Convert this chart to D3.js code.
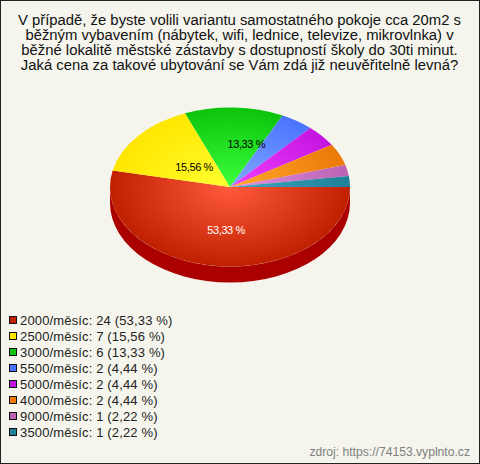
<!DOCTYPE html>
<html><head><meta charset="utf-8">
<script src="https://cdn.jsdelivr.net/npm/d3@7"></script>
<style>html,body{margin:0;padding:0;background:#f5f5ed}svg{display:block}text{font-family:"Liberation Sans",Arial,sans-serif}</style>
</head><body><svg id="c" width="480" height="464"></svg>
<script>
const titleLines = [
  "V případě, že byste volili variantu samostatného pokoje cca 20m2 s",
  "běžným vybavením (nábytek, wifi, lednice, televize, mikrovlnka) v",
  "běžné lokalitě městské zástavby s dostupností školy do 30ti minut.",
  "Jaká cena za takové ubytování se Vám zdá již neuvěřitelně levná?"
];
const categories = ["2000/měsíc","2500/měsíc","3000/měsíc","5500/měsíc","5000/měsíc","4000/měsíc","9000/měsíc","3500/měsíc"];
const counts = [24,7,6,2,2,2,1,1];
const percentLabels = ["53,33 %","15,56 %","13,33 %","4,44 %","4,44 %","4,44 %","2,22 %","2,22 %"];
const pieLabelColors = ["#ffffff","#000000","#000000",null,null,null,null,null];
const labelRadii = [.55,.39,.54];
const labelShift = [3,0,14];
const edgeColors = ["#c02000","#ffe600","#0cc40c","#4a74ff","#c414e0","#ec7a08","#bc62b4","#1f8098"];
const centreColors = ["#ff5a3c","#ffff30","#3cff3c","#80a8ff","#f040ff","#ffa828","#e090e0","#40a8c0"];
const sideColor = "#aa0000";
const sourceText = "zdroj: https://74153.vyplnto.cz";

const W=480,H=464,cx=230,cy=187,rx=120,ry=79.5,depth=16;
const svg=d3.select("#c");
const defs=svg.append("defs");
svg.append("rect").attr("x",.5).attr("y",.5).attr("width",W-1).attr("height",H-1).attr("fill","#f5f5ed").attr("stroke","#222");

svg.selectAll("text.t").data(titleLines).join("text").attr("class","t")
  .attr("x",W/2-.5).attr("y",(d,i)=>25+i*15).attr("text-anchor","middle").attr("font-size",14.85).attr("fill","#111").text(d=>d);

const pie=d3.pie().sort(null).startAngle(Math.PI/2).endAngle(Math.PI/2+2*Math.PI);
const arcs=pie(counts);
const arc=d3.arc().innerRadius(0).outerRadius(rx);
const k=ry/rx;

const ellipseX=d3.scaleLinear().domain([-1,1]).range([cx-rx,cx+rx]);
const ellipseY=d3.scaleLinear().domain([-1,1]).range([cy-ry,cy+ry]);
const wall=[];
arcs.forEach(a=>{
  const s=Math.max(a.startAngle,Math.PI/2), e=Math.min(a.endAngle,3*Math.PI/2);
  if(e>s){
    const x0=ellipseX(Math.sin(s)),y0=ellipseY(-Math.cos(s)),x1=ellipseX(Math.sin(e)),y1=ellipseY(-Math.cos(e));
    wall.push(`M${x0},${y0}A${rx},${ry} 0 0 1 ${x1},${y1}L${x1},${y1+depth}A${rx},${ry} 0 0 0 ${x0},${y0+depth}Z`);
  }
});
svg.append("g").selectAll("path").data(wall).join("path").attr("d",d=>d).attr("fill",sideColor);

const g=svg.append("g").attr("transform",`translate(${cx},${cy}) scale(1,${k})`);
arcs.forEach((a,i)=>{
  const grad=defs.append("radialGradient").attr("id","g"+i).attr("gradientUnits","userSpaceOnUse")
    .attr("cx",0).attr("cy",0).attr("r",rx);
  grad.append("stop").attr("offset",0).attr("stop-color",centreColors[i]);
  grad.append("stop").attr("offset",1).attr("stop-color",edgeColors[i]);
});
g.selectAll("path").data(arcs).join("path").attr("d",arc).attr("fill",(d,i)=>`url(#g${i})`);

const labelPos=d=>{const r=rx*labelRadii[d.index];const c=d3.arc().innerRadius(r).outerRadius(r).centroid(d);return [cx+c[0]+labelShift[d.index],cy+c[1]*k+4];};
svg.selectAll("text.p").data(arcs.filter((d,i)=>pieLabelColors[i])).join("text").attr("class","p")
  .attr("x",d=>labelPos(d)[0]).attr("y",d=>labelPos(d)[1])
  .attr("text-anchor","middle").attr("font-size",11).attr("letter-spacing",-.4)
  .attr("fill",d=>pieLabelColors[d.index]).text(d=>percentLabels[d.index]);

const legY=d3.scalePoint().domain(categories).range([320,432]);
const leg=svg.append("g").selectAll("g").data(categories).join("g").attr("transform",d=>`translate(0,${legY(d)})`);
leg.append("rect").attr("x",9.5).attr("y",-3.5).attr("width",7).attr("height",7).attr("stroke","#111")
  .attr("fill",(d,i)=>edgeColors[i]);
leg.append("text").attr("x",20).attr("y",5).attr("font-size",13).attr("letter-spacing",.15).attr("fill","#222")
  .text((d,i)=>`${d}: ${counts[i]} (${percentLabels[i]})`);

svg.append("text").attr("x",470).attr("y",456).attr("text-anchor","end").attr("font-size",12.15).attr("fill","#808080").text(sourceText);
</script></body></html>
